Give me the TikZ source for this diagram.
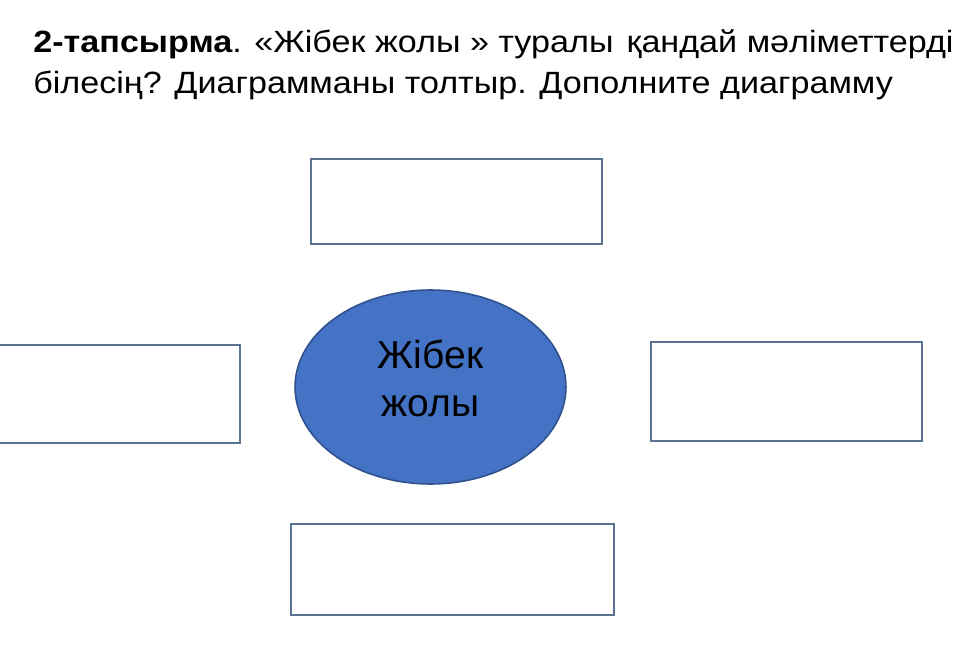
\documentclass[tikz,border=0pt]{standalone}
\usepackage{fontspec}
\setmainfont{Liberation Sans}
\newfontfamily\taskfont{Liberation Sans}[FakeStretch=1.11]
\usetikzlibrary{shapes.geometric}
\definecolor{boxblue}{HTML}{5B7393}
\definecolor{silkfill}{HTML}{4472C4}
\definecolor{silkdraw}{HTML}{2F528F}

\begin{document}
\begin{tikzpicture}[
    x=0.02cm, y=-0.02cm, % 1 Einheit = 1 Pixel der Vorlage
    font={\fontsize{17.5}{23.9}\selectfont},
    answerbox/.style={draw=boxblue, line width=1.1pt, rectangle, inner sep=0pt},
    silkell/.style={ellipse, draw=silkdraw, fill=silkfill, line width=0.9pt, inner sep=0pt,
        minimum width=5.42cm, minimum height=3.88cm, align=center, text depth=0.36cm,
        font={\fontsize{22.2}{27.3}\selectfont}}
]
\useasboundingbox (0,0) rectangle (971,669);

% Aufgabentext (base = Grundlinie der zweiten Zeile)
\node[align=left, anchor=base west, inner sep=0pt, font={\taskfont\fontsize{17.5}{23.9}\selectfont}] (task) at (33,94)
    {\textbf{2-тапсырма}. «Жібек жолы » туралы\hspace{2pt} қандай мәліметтерді\\
     білесің? Диаграмманы толтыр. Дополните диаграмму};

% Mitte
\node[silkell] (silk) at (430.5,387) {Жібек\\жолы};

% Leere Felder
\node[answerbox, minimum width=5.82cm, minimum height=1.70cm] (top)    at (456.5,201.5) {};
\node[answerbox, minimum width=4.88cm, minimum height=1.96cm] (left)   at (118,394) {};
\node[answerbox, minimum width=5.42cm, minimum height=1.98cm] (right)  at (786.5,391.5) {};
\node[answerbox, minimum width=6.46cm, minimum height=1.82cm] (bottom) at (452.5,569.5) {};

\end{tikzpicture}
\end{document}
